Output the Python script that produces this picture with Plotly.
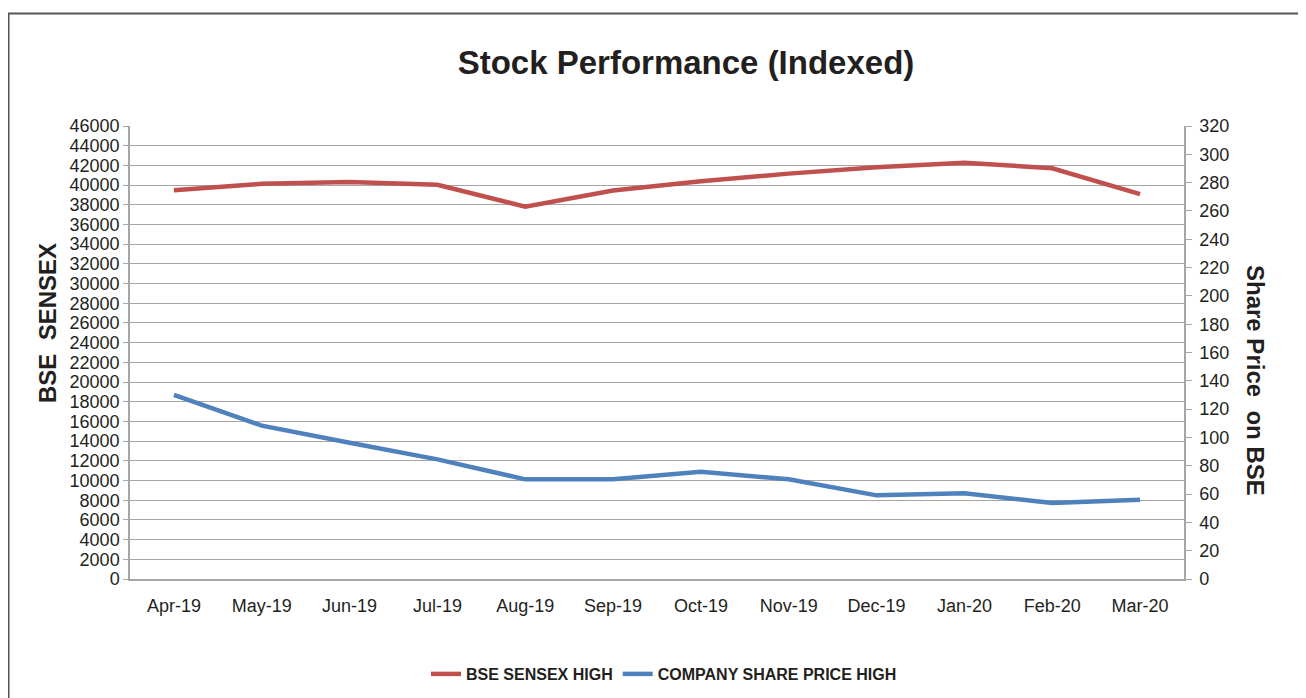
import plotly.graph_objects as go

months = ["Apr-19", "May-19", "Jun-19", "Jul-19", "Aug-19", "Sep-19",
          "Oct-19", "Nov-19", "Dec-19", "Jan-20", "Feb-20", "Mar-20"]
sensex_high = [39487, 40124, 40312, 40032, 37807, 39442,
               40392, 41163, 41810, 42274, 41710, 39083]
share_high = [130.0, 108.3, 96.3, 84.5, 70.4, 70.4,
              75.8, 70.4, 59.1, 60.5, 53.7, 56.0]

# page offset (body margin) compensation
OFF = 8
W, H = 1306, 698
L, R, T, B = 130 - OFF, 1184 - OFF, 126 - OFF, 579 - OFF
PW, PH = R - L, B - T

def px_x(p):
    return (p - OFF - L) / PW

def px_y(p):
    return (B - (p - OFF)) / PH

FONT = "Liberation Sans, Arial, sans-serif"
TXT = "#231f20"
GRID = "#a6a6a6"

fig = go.Figure()
fig.add_trace(go.Scatter(x=months, y=sensex_high, name="<b>BSE SENSEX HIGH</b>",
                         mode="lines", line=dict(color="#c0504d", width=4.5),
                         yaxis="y"))
fig.add_trace(go.Scatter(x=months, y=share_high, name="<b>COMPANY SHARE PRICE HIGH</b>",
                         mode="lines", line=dict(color="#4f81bd", width=4.5),
                         yaxis="y2"))

fig.update_layout(
    width=W, height=H,
    margin=dict(l=L, r=W - R, t=T, b=H - B, autoexpand=False),
    paper_bgcolor="white", plot_bgcolor="white",
    font=dict(family=FONT, color=TXT, size=18),
    title=dict(text="<b>Stock Performance (Indexed)</b>",
               x=(686 - OFF) / W, xanchor="center", y=1 - (62 - OFF) / H,
               yanchor="middle", yref="container",
               font=dict(size=33, color=TXT, family=FONT)),
    xaxis=dict(type="category", range=[-0.5, 11.5], showgrid=False,
               showline=True, linecolor=GRID, linewidth=1.5,
               ticks="", tickfont=dict(size=18, color=TXT),
               ticklabelstandoff=10),
    yaxis=dict(range=[0, 46000], dtick=2000, tick0=0, tickformat="d",
               showgrid=True, gridcolor=GRID, gridwidth=1.3, showline=True,
               linecolor=GRID, linewidth=1.5, ticks="outside", ticklen=5,
               tickcolor=GRID, tickfont=dict(size=18, color=TXT),
               zeroline=False),
    yaxis2=dict(range=[0, 320], dtick=20, tick0=0, tickformat="d",
                overlaying="y", side="right",
                showgrid=False, showline=True, linecolor=GRID, linewidth=1.5,
                ticks="outside", ticklen=6, tickcolor=GRID,
                tickfont=dict(size=18, color=TXT), zeroline=False,
                ticklabelstandoff=4),
    legend=dict(orientation="h", x=px_x(426), xanchor="left",
                y=px_y(674), yanchor="middle",
                font=dict(size=16, color=TXT, family=FONT),
                itemwidth=30, tracegroupgap=0, bgcolor="rgba(0,0,0,0)"),
    showlegend=True,
)

fig.add_annotation(text="<b>BSE\u00a0 SENSEX</b>", xref="paper", yref="paper",
                   x=px_x(47), y=px_y(323), textangle=-90, showarrow=False,
                   xanchor="center", yanchor="middle",
                   font=dict(size=24, color=TXT, family=FONT))
fig.add_annotation(text="<b>Share Price\u00a0 on BSE</b>", xref="paper", yref="paper",
                   x=px_x(1256), y=px_y(380), textangle=90, showarrow=False,
                   xanchor="center", yanchor="middle",
                   font=dict(size=24, color=TXT, family=FONT))

fig.add_shape(type="rect", xref="paper", yref="paper",
              x0=px_x(8.5), x1=px_x(1330), y0=px_y(730), y1=px_y(13.5),
              line=dict(color="#555555", width=2), fillcolor="rgba(0,0,0,0)",
              layer="below")

fig.write_html("out.html")
